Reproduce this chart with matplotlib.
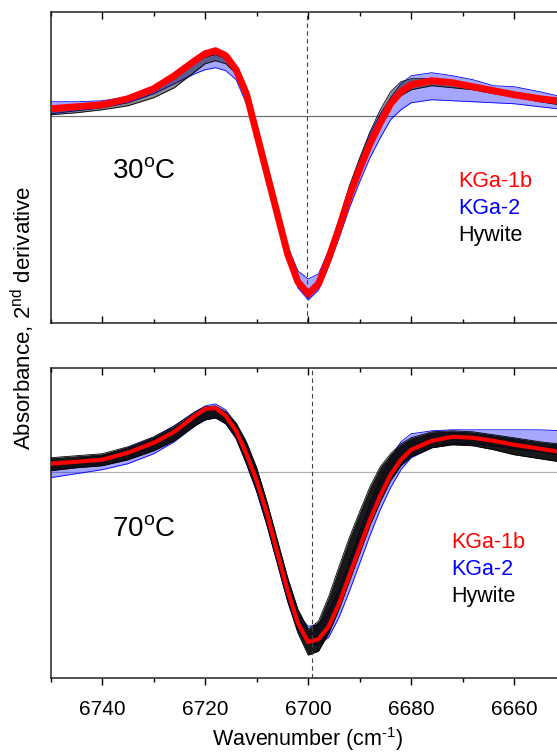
import numpy as np
import matplotlib
matplotlib.use('Agg')
import matplotlib.pyplot as plt

plt.rcParams['font.family'] = ['Liberation Sans', 'DejaVu Sans']
plt.rcParams['mathtext.fontset'] = 'custom'
plt.rcParams['mathtext.rm'] = 'Liberation Sans'
plt.rcParams['mathtext.it'] = 'Liberation Sans:italic'

# wavenumber grid (cm-1) shared by every trace
wn = [6752, 6750, 6745, 6740, 6735, 6730, 6726, 6722, 6720, 6718, 6716, 6714, 6712,
      6710, 6708, 6706, 6704, 6702, 6700, 6698, 6696, 6694, 6692, 6690, 6688, 6686,
      6684, 6682, 6680, 6676, 6672, 6668, 6664, 6660, 6655, 6650, 6645]

# 30 C panel (2nd derivative, arbitrary units)
red_30 = [6, 7, 9, 11, 17, 27, 40, 55, 62, 65, 60, 46, 22, -18, -58, -98, -138, -166, -178,
          -168, -142, -112, -80, -53, -28, -7, 12, 24, 31, 35, 33, 29, 25, 21, 17, 14, 12]
blue_lo_30 = [1, 2, 5, 8, 13, 22, 32, 42, 46, 48, 45, 36, 12, -26, -66, -106, -144, -172, -184,
              -174, -150, -122, -92, -66, -42, -22, -4, 6, 13, 16, 15, 14, 13, 12, 9, 6, 4]
blue_hi_30 = [12, 14, 14, 15, 19, 29, 40, 54, 59, 61, 58, 45, 24, -14, -52, -90, -130, -155, -163,
              -158, -134, -104, -72, -44, -18, 2, 18, 32, 40, 43, 40, 36, 30, 29, 24, 18, 15]
black_lo_30 = [-2, 1, 3, 6, 10, 18, 28, 44, 52, 55, 52, 42, 18, -20, -60, -100, -140, -168, -182,
               -170, -145, -114, -82, -54, -29, -8, 10, 20, 26, 30, 28, 26, 22, 19, 14, 10, 8]
black_hi_30 = [8, 9, 11, 12, 16, 25, 36, 52, 58, 61, 57, 45, 24, -15, -55, -95, -135, -163, -174,
               -164, -136, -104, -70, -42, -16, 6, 24, 34, 37, 37, 35, 31, 27, 23, 18, 15, 13]

# 70 C panel
red_70 = [7, 8, 10, 12, 19, 29, 40, 56, 63, 64, 56, 41, 18, -9, -42, -81, -119, -152, -171,
          -168, -155, -132, -104, -76, -48, -24, -3, 12, 22, 31, 35, 34, 31, 27, 23, 19, 16]
blue_lo_70 = [-8, -6, -2, 2, 8, 18, 30, 46, 52, 54, 48, 34, 8, -20, -54, -92, -130, -160, -172,
              -174, -166, -146, -120, -92, -64, -38, -16, 2, 14, 24, 28, 28, 26, 23, 20, 16, 13]
blue_hi_70 = [6, 8, 12, 16, 24, 34, 46, 60, 66, 68, 62, 48, 26, 0, -34, -72, -110, -144, -155,
              -154, -140, -118, -90, -60, -32, -8, 14, 30, 38, 41, 42, 42, 42, 42, 42, 41, 40]
black_lo_70 = [0, 1, 4, 6, 12, 21, 31, 46, 52, 54, 48, 33, 8, -20, -54, -92, -130, -162, -184,
               -180, -162, -138, -110, -82, -54, -30, -9, 6, 15, 24, 27, 26, 22, 17, 13, 9, 7]
black_hi_70 = [13, 14, 16, 18, 25, 35, 46, 60, 65, 66, 60, 49, 30, 4, -30, -68, -106, -138, -158,
               -150, -125, -95, -66, -40, -15, 5, 18, 28, 34, 40, 41, 40, 37, 34, 30, 27, 25]

panels = [
    ('30$^{\\rm o}$C', red_30, blue_lo_30, blue_hi_30, black_lo_30, black_hi_30, 6700.3, 5.0),
    ('70$^{\\rm o}$C', red_70, blue_lo_70, blue_hi_70, black_lo_70, black_hi_70, 6699.3, 3.0),
]
samples = ['KGa-1b', 'KGa-2', 'Hywite']
sample_colors = ['#ff0000', '#0000ff', '#000000']
label_x = [6670.8, 6672.2]
label_y = [[-71, -98.5, -125.5], [-76.5, -103.5, -130.5]]
temp_y = [-62.6, -65]
zero_colors = ['#707070', '#b0b0b0']

fig = plt.figure(figsize=(5.57, 7.52), dpi=100)
# axes run past the right edge of the figure, as in the cropped original
boxes = [[0.0910, 0.5705, 1.0171, 0.4140], [0.0910, 0.0984, 1.0171, 0.4122]]

for i, (label, red, blo, bhi, klo, khi, center, red_lw) in enumerate(panels):
    ax = fig.add_axes(boxes[i])
    ax.axhline(0, color=zero_colors[i], lw=0.9, zorder=1)
    ax.axvline(center, color='#404040', lw=0.8, ls=(0, (4, 3)), zorder=6)

    ax.fill_between(wn, blo, bhi, color='#0000ff', alpha=0.35, lw=0, zorder=2)
    ax.plot(wn, blo, color='#0000ff', lw=0.6, zorder=2)
    ax.plot(wn, bhi, color='#0000ff', lw=0.6, zorder=2)
    black_alpha = 0.45 if i == 0 else 0.9
    ax.fill_between(wn, klo, khi, color='black', alpha=black_alpha, lw=0, zorder=3)
    ax.plot(wn, klo, color='black', lw=0.6, zorder=3)
    ax.plot(wn, khi, color='black', lw=0.6, zorder=3)
    ax.plot(wn, red, color='#ff0000', lw=red_lw, zorder=4, solid_capstyle='butt')

    ax.set_xlim(6750, 6640)
    ax.set_ylim(-207, 104)
    ax.set_yticks([])
    ax.set_xticks([6740, 6720, 6700, 6680, 6660])
    ax.set_xticks(np.arange(6750, 6640, -10), minor=True)
    for s in ax.spines.values():
        s.set_linewidth(1.1)
        s.set_color('#222222')

    ax.text(6738.1, temp_y[i], label, fontsize=20, va='baseline', ha='left')
    for name, c, y in zip(samples, sample_colors, label_y[i]):
        ax.text(label_x[i], y, name, color=c, fontsize=15.5, va='baseline', ha='left')

    if i == 0:
        ax.tick_params(axis='x', which='both', direction='in', top=True, bottom=True,
                       labelbottom=False)
        ax.tick_params(axis='x', which='major', length=5, width=1)
        ax.tick_params(axis='x', which='minor', length=3, width=1)
    else:
        ax.tick_params(axis='x', which='both', direction='out', top=False, bottom=True,
                       labelsize=15, pad=11)
        ax.tick_params(axis='x', which='major', length=5, width=1)
        ax.tick_params(axis='x', which='minor', length=3, width=1)
        top = ax.twiny()
        top.set_xlim(ax.get_xlim())
        top.set_xticks([6740, 6720, 6700, 6680, 6660])
        top.set_xticks(np.arange(6750, 6640, -10), minor=True)
        top.tick_params(axis='x', which='both', direction='in', labeltop=False)
        top.tick_params(axis='x', which='major', length=5, width=1)
        top.tick_params(axis='x', which='minor', length=3, width=1)
        for s in top.spines.values():
            s.set_visible(False)

fig.text(0.553, 0.0075, 'Wavenumber (cm$^{\\rm \u2010 1}$)', fontsize=15.5,
         ha='center', va='baseline')
fig.text(0.041, 0.577, 'Absorbance, 2$^{\\rm nd}$ derivative', rotation=90,
         fontsize=16, ha='center', va='center')

fig.savefig('out.png', dpi=100)
